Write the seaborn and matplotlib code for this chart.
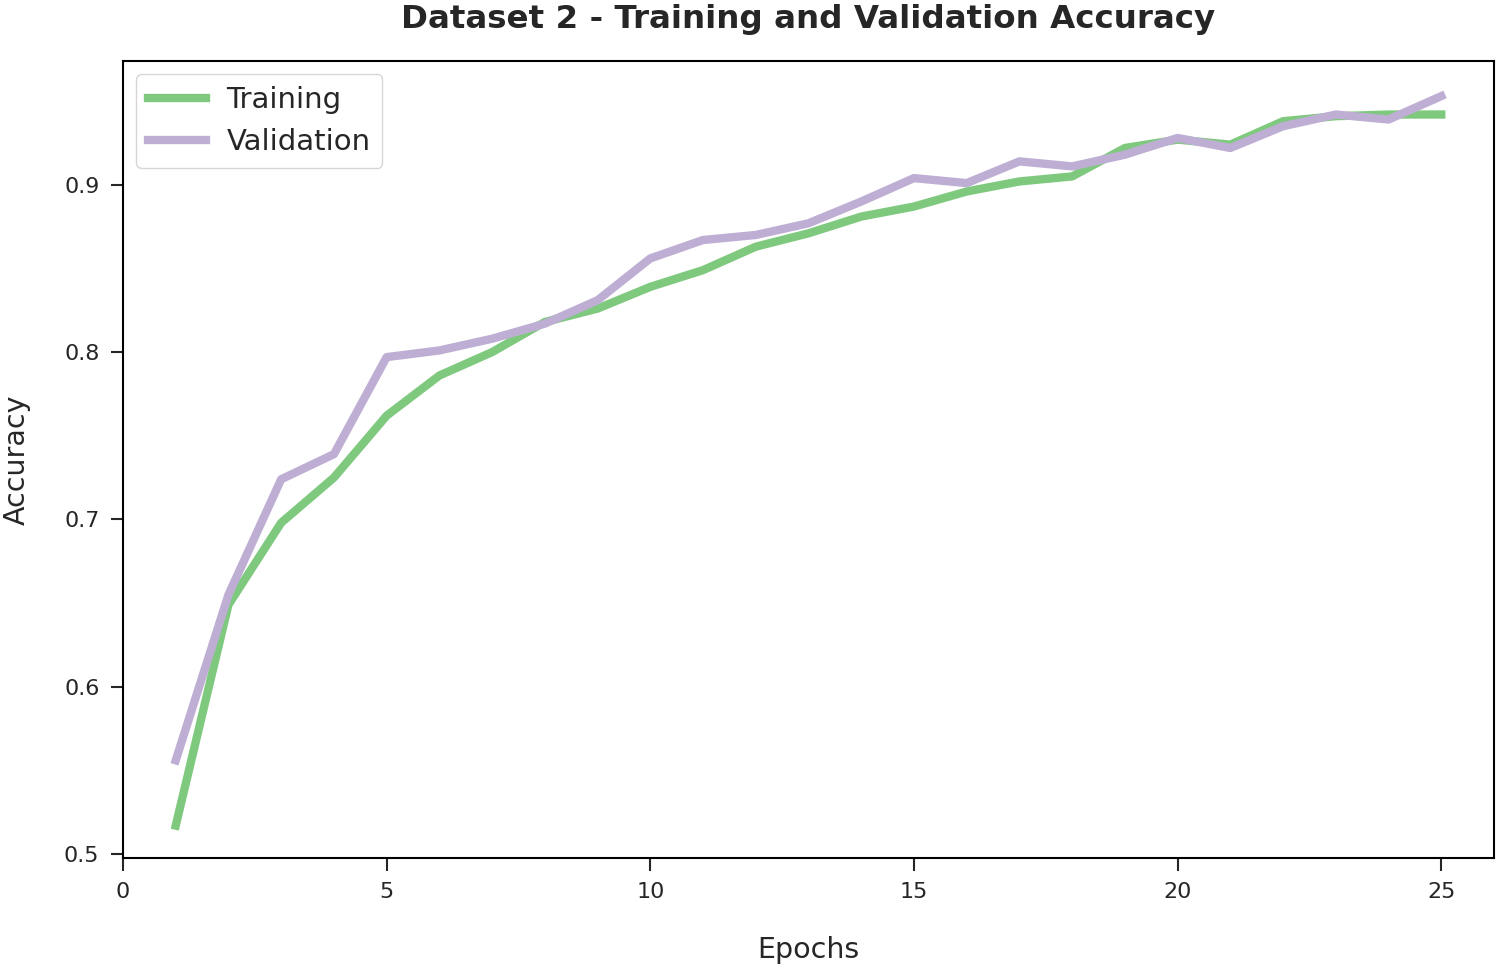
import numpy as np
import pandas as pd
import seaborn as sns
import matplotlib
matplotlib.use("Agg")
import matplotlib.pyplot as plt

epochs = list(range(1, 26))
training_acc = [0.517, 0.649, 0.698, 0.725, 0.762, 0.786, 0.800, 0.818, 0.826, 0.839,
                0.849, 0.863, 0.871, 0.881, 0.887, 0.896, 0.902, 0.905, 0.922, 0.927,
                0.924, 0.938, 0.941, 0.942, 0.942]
validation_acc = [0.556, 0.655, 0.724, 0.739, 0.797, 0.801, 0.808, 0.817, 0.831, 0.856,
                  0.867, 0.870, 0.877, 0.890, 0.904, 0.901, 0.914, 0.911, 0.918, 0.928,
                  0.922, 0.935, 0.942, 0.939, 0.953]

sns.set_theme(style="ticks")
plt.rcParams['font.family'] = ['DejaVu Sans']
plt.rcParams['lines.solid_capstyle'] = 'projecting'

df = pd.DataFrame({
    "Epochs": epochs * 2,
    "Accuracy": training_acc + validation_acc,
    "Set": ["Training"] * len(epochs) + ["Validation"] * len(epochs),
})

fig = plt.figure(figsize=(15, 9.68), dpi=100)
ax = fig.add_axes([0.082, 0.1136, 0.914, 0.8234])
sns.lineplot(data=df, x="Epochs", y="Accuracy", hue="Set",
             palette=["#7fc97f", "#beaed4"], linewidth=6, ax=ax)

ax.set_xlim(0, 26)
ax.set_ylim(0.4976, 0.974)
ax.set_xticks([0, 5, 10, 15, 20, 25])
ax.set_yticks([0.5, 0.6, 0.7, 0.8, 0.9])
ax.set_yticklabels(["0.5", "0.6", "0.7", "0.8", "0.9"])
ax.tick_params(labelsize=16, length=9, width=1.5, pad=8)
for s in ax.spines.values():
    s.set_linewidth(1.5)
    s.set_color("black")

ax.set_xlabel("Epochs", fontsize=20.5, labelpad=25)
ax.set_ylabel("Accuracy", fontsize=20.5, labelpad=24)
ax.set_title("Dataset 2 - Training and Validation Accuracy", fontsize=23.4,
             fontweight="bold", pad=24)
leg = ax.legend(title=None, fontsize=21, loc="upper left", handlelength=2.0,
                handletextpad=0.7, borderaxespad=0.45)

fig.savefig("out.png", dpi=100)
